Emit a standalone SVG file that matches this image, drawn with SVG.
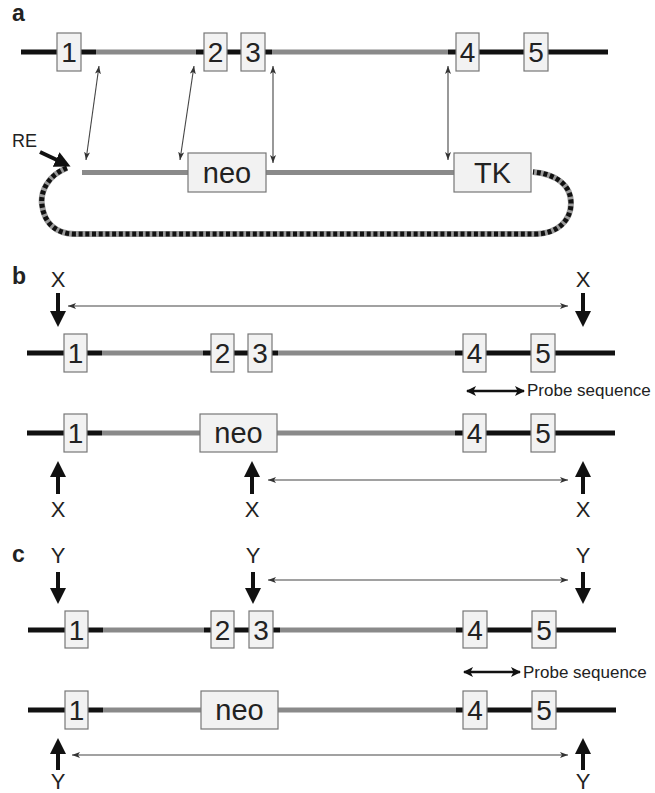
<svg xmlns="http://www.w3.org/2000/svg" width="655" height="793" viewBox="0 0 655 793">
<defs>
<style>
.blk{stroke:#111;stroke-width:5;fill:none}
.gry{stroke:#8a8a8a;stroke-width:5;fill:none}
.box{fill:#f2f2f2;stroke:#777;stroke-width:1.2}
.num{font-family:"Liberation Sans",Arial,sans-serif;font-size:28px;fill:#222;text-anchor:middle}
.lbl{font-family:"Liberation Sans",Arial,sans-serif;font-size:22px;fill:#222;text-anchor:middle}
.pnl{font-family:"Liberation Sans",Arial,sans-serif;font-size:23px;font-weight:bold;fill:#222}
.small{font-family:"Liberation Sans",Arial,sans-serif;font-size:17px;fill:#222}
.thin{stroke:#444;stroke-width:1.1;fill:none;marker-start:url(#th);marker-end:url(#th)}
.thick{stroke:#111;stroke-width:4;fill:none;marker-end:url(#tk)}
.probe{stroke:#111;stroke-width:2.5;fill:none;marker-start:url(#pr);marker-end:url(#pr)}
</style>
<marker id="th" viewBox="0 0 8 6" refX="8" refY="3" markerWidth="8" markerHeight="6" markerUnits="userSpaceOnUse" orient="auto-start-reverse"><path d="M0,0 L8,3 L0,6 L2,3 z" fill="#333"/></marker>
<marker id="tk" viewBox="0 0 16 16" refX="1" refY="8" markerWidth="16" markerHeight="16" markerUnits="userSpaceOnUse" orient="auto"><path d="M0,0 L16,8 L0,16 z" fill="#111"/></marker>
<marker id="pr" viewBox="0 0 10 10" refX="9" refY="5" markerWidth="10" markerHeight="10" markerUnits="userSpaceOnUse" orient="auto-start-reverse"><path d="M0,0 L10,5 L0,10 L2.5,5 z" fill="#111"/></marker>
</defs>
<rect width="655" height="793" fill="#fff"/>

<!-- Panel a -->
<text class="pnl" x="12" y="21">a</text>
<g id="a-top">
<path class="blk" d="M21,52 H96 M196,52 H272 M448,52 H608"/>
<path class="gry" d="M96,52 H196 M272,52 H448"/>
</g>
<g id="a-e1"><rect class="box" x="57" y="33" width="24" height="38"/><text class="num" x="69" y="62">1</text></g>
<g id="a-e2"><rect class="box" x="204" y="33" width="23" height="38"/><text class="num" x="215.5" y="62">2</text></g>
<g id="a-e3"><rect class="box" x="241" y="33" width="24" height="38"/><text class="num" x="253" y="62">3</text></g>
<g id="a-e4"><rect class="box" x="456" y="33" width="23" height="38"/><text class="num" x="467.5" y="62">4</text></g>
<g id="a-e5"><rect class="box" x="524" y="33" width="24" height="38"/><text class="num" x="536" y="62">5</text></g>
<g id="a-vector">
<path d="M67,168 C48,175 40,192 42,205 C44,222 55,234 75,234 L535,234 C558,234 571,220 571,203 C571,185 556,174 533,172" fill="none" stroke="#9a9a9a" stroke-width="6"/>
<path d="M67,168 C48,175 40,192 42,205 C44,222 55,234 75,234 L535,234 C558,234 571,220 571,203 C571,185 556,174 533,172" fill="none" stroke="#111" stroke-width="5" stroke-dasharray="4 2.7"/>
<path class="gry" d="M82,172.5 H454"/>
</g>
<g id="a-neo"><rect class="box" x="188" y="153" width="78" height="39"/><text class="num" x="227" y="183" style="font-size:29px">neo</text></g>
<g id="a-tk"><rect class="box" x="454" y="153" width="77" height="39"/><text class="num" x="492.5" y="183" style="font-size:29px">TK</text></g>
<g id="a-re"><text class="small" x="12" y="147" style="font-size:18px">RE</text></g>

<!-- Panel b -->
<text class="pnl" x="12" y="284">b</text>
<g id="b-top">
<path class="blk" d="M27,353 H102 M203,353 H278 M455,353 H615"/>
<path class="gry" d="M102,353 H203 M278,353 H455"/>
</g>
<g id="b-e1"><rect class="box" x="64" y="334" width="23" height="38"/><text class="num" x="75.5" y="363">1</text></g>
<g id="b-e2"><rect class="box" x="211" y="334" width="23" height="38"/><text class="num" x="222.5" y="363">2</text></g>
<g id="b-e3"><rect class="box" x="248" y="334" width="24" height="38"/><text class="num" x="260" y="363">3</text></g>
<g id="b-e4"><rect class="box" x="463" y="334" width="23" height="38"/><text class="num" x="474.5" y="363">4</text></g>
<g id="b-e5"><rect class="box" x="531" y="334" width="24" height="38"/><text class="num" x="543" y="363">5</text></g>
<g id="b-probe"><text class="small" x="527" y="396">Probe sequence</text></g>
<g id="b-bot">
<path class="blk" d="M27,433 H102 M455,433 H615"/>
<path class="gry" d="M102,433 H455"/>
</g>
<g id="b2-e1"><rect class="box" x="64" y="414" width="23" height="38"/><text class="num" x="75.5" y="443">1</text></g>
<g id="b2-neo"><rect class="box" x="200" y="414" width="77" height="38"/><text class="num" x="238.5" y="443" style="font-size:29px">neo</text></g>
<g id="b2-e4"><rect class="box" x="463" y="414" width="23" height="38"/><text class="num" x="474.5" y="443">4</text></g>
<g id="b2-e5"><rect class="box" x="531" y="414" width="24" height="38"/><text class="num" x="543" y="443">5</text></g>
<g id="b-sites">
<text class="lbl" x="58" y="287">X</text>
<text class="lbl" x="583" y="287">X</text>
<text class="lbl" x="58" y="517">X</text>
<text class="lbl" x="252" y="517">X</text>
<text class="lbl" x="583" y="517">X</text>
</g>

<!-- Panel c -->
<text class="pnl" x="12" y="562">c</text>
<g id="c-top">
<path class="blk" d="M28,630 H103 M204,630 H280 M456,630 H616"/>
<path class="gry" d="M103,630 H204 M280,630 H456"/>
</g>
<g id="c-e1"><rect class="box" x="65" y="611" width="23" height="37"/><text class="num" x="76.5" y="640">1</text></g>
<g id="c-e2"><rect class="box" x="211" y="611" width="23" height="37"/><text class="num" x="222.5" y="640">2</text></g>
<g id="c-e3"><rect class="box" x="249" y="611" width="24" height="37"/><text class="num" x="261" y="640">3</text></g>
<g id="c-e4"><rect class="box" x="463" y="611" width="24" height="37"/><text class="num" x="475" y="640">4</text></g>
<g id="c-e5"><rect class="box" x="532" y="611" width="24" height="37"/><text class="num" x="544" y="640">5</text></g>
<g id="c-probe"><text class="small" x="523" y="678">Probe sequence</text></g>
<g id="c-bot">
<path class="blk" d="M28,710 H103 M456,710 H616"/>
<path class="gry" d="M103,710 H456"/>
</g>
<g id="c2-e1"><rect class="box" x="65" y="691" width="23" height="38"/><text class="num" x="76.5" y="720">1</text></g>
<g id="c2-neo"><rect class="box" x="201" y="691" width="77" height="38"/><text class="num" x="239.5" y="720" style="font-size:29px">neo</text></g>
<g id="c2-e4"><rect class="box" x="463" y="691" width="24" height="38"/><text class="num" x="475" y="720">4</text></g>
<g id="c2-e5"><rect class="box" x="532" y="691" width="24" height="38"/><text class="num" x="544" y="720">5</text></g>
<g id="c-sites">
<text class="lbl" x="58" y="563">Y</text>
<text class="lbl" x="253" y="563">Y</text>
<text class="lbl" x="583" y="563">Y</text>
<text class="lbl" x="58" y="789">Y</text>
<text class="lbl" x="583" y="789">Y</text>
</g>

<!-- Connectors -->
<g id="connectors">
<line class="thin" x1="99" y1="66" x2="86" y2="160"/>
<line class="thin" x1="194" y1="66" x2="180" y2="160"/>
<line class="thin" x1="273" y1="66" x2="273" y2="163"/>
<line class="thin" x1="448" y1="66" x2="448" y2="160"/>
<line class="thick" x1="40" y1="152" x2="57" y2="160"/>

<line class="thin" x1="68" y1="306" x2="568" y2="306"/>
<line class="thick" x1="58" y1="293" x2="58" y2="312"/>
<line class="thick" x1="583" y1="293" x2="583" y2="312"/>
<line class="probe" x1="467" y1="391" x2="524" y2="391"/>
<line class="thick" x1="58" y1="494" x2="58" y2="476"/>
<line class="thick" x1="252" y1="494" x2="252" y2="476"/>
<line class="thick" x1="583" y1="494" x2="583" y2="476"/>
<line class="thin" x1="268" y1="480" x2="568" y2="480"/>

<line class="thin" x1="268" y1="580" x2="568" y2="580"/>
<line class="thick" x1="58" y1="572" x2="58" y2="589"/>
<line class="thick" x1="253" y1="572" x2="253" y2="589"/>
<line class="thick" x1="583" y1="572" x2="583" y2="589"/>
<line class="probe" x1="464" y1="672" x2="520" y2="672"/>
<line class="thick" x1="58" y1="770" x2="58" y2="753"/>
<line class="thick" x1="583" y1="770" x2="583" y2="753"/>
<line class="thin" x1="72" y1="755" x2="568" y2="755"/>
</g>
</svg>
